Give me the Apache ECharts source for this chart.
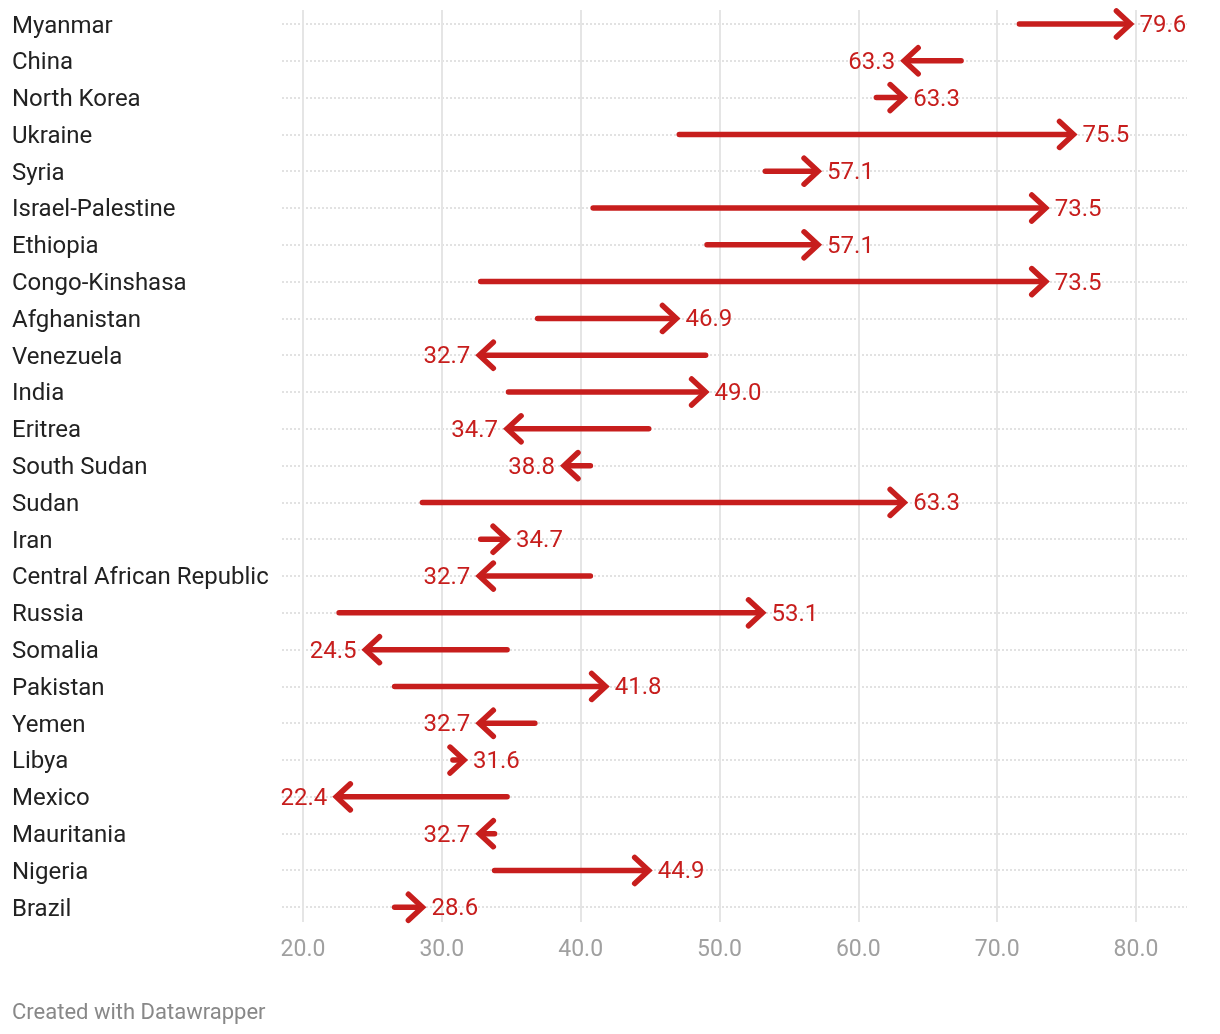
<!DOCTYPE html>
<html><head><meta charset="utf-8">
<script src="https://cdn.jsdelivr.net/npm/echarts@6/dist/echarts.min.js"></script>
<style>html,body{margin:0;padding:0;background:#fff}#c{width:1220px;height:1034px}</style>
</head><body><div id="c"></div>
<script>
const countries = ["Myanmar","China","North Korea","Ukraine","Syria","Israel-Palestine","Ethiopia","Congo-Kinshasa","Afghanistan","Venezuela","India","Eritrea","South Sudan","Sudan","Iran","Central African Republic","Russia","Somalia","Pakistan","Yemen","Libya","Mexico","Mauritania","Nigeria","Brazil"];
const startValues = [71.6,67.4,61.3,47.1,53.3,40.9,49.1,32.8,36.9,49.0,34.8,44.9,40.7,28.6,32.8,40.7,22.6,34.7,26.6,36.7,30.8,34.7,33.8,33.8,26.6];
const endValues = [79.6,63.3,63.3,75.5,57.1,73.5,57.1,73.5,46.9,32.7,49.0,34.7,38.8,63.3,34.7,32.7,53.1,24.5,41.8,32.7,31.6,22.4,32.7,44.9,28.6];
const xTicks = [20,30,40,50,60,70,80];

const RED = '#c71e1d';
const FONT = 'Roboto';
const data = countries.map((c,i)=>[i,startValues[i],endValues[i]]);

const chart = echarts.init(document.getElementById('c'), null, {renderer:'canvas'});
chart.setOption({
  animation:false,
  backgroundColor:'#fff',
  grid:[
    {left:303,right:84,top:10,bottom:112,containLabel:false},
    {left:282,right:33,top:24,bottom:127,containLabel:false}
  ],
  xAxis:[
    {gridIndex:0,type:'value',min:xTicks[0],max:xTicks[xTicks.length-1],interval:10,
     axisLine:{show:false},axisTick:{show:false},
     axisLabel:{color:'#a0a0a0',fontFamily:FONT,fontSize:23,margin:17,formatter:v=>v.toFixed(1)},
     splitLine:{show:true,lineStyle:{color:'#e5e5e5',width:2}}},
    {gridIndex:1,type:'value',min:0,max:1,show:false}
  ],
  yAxis:[
    {gridIndex:0,type:'value',inverse:true,min:-0.38,max:24.4,show:false},
    {gridIndex:1,type:'category',data:countries,inverse:true,boundaryGap:false,
     axisLine:{show:false},axisTick:{show:false},
     axisLabel:{interval:0,align:'left',margin:270,formatter:v=>'{a|'+v+'}',
       rich:{a:{color:'#222',fontFamily:FONT,fontSize:24,padding:[5,0,0,0]}}},
     splitLine:{show:true,interval:0,lineStyle:{color:'#d9d9d9',width:1.5,type:[2,2]}}}
  ],
  series:[{
    type:'custom',xAxisIndex:0,yAxisIndex:0,data:data,clip:false,
    renderItem:(params,api)=>{
      const i=api.value(0), s=api.value(1), e=api.value(2);
      const p0=api.coord([s,i]), p1=api.coord([e,i]);
      const dir = e>=s?1:-1;
      const y=p1[1];
      const ax=14, ay=13;
      return {type:'group',children:[
        {type:'line',shape:{x1:p0[0],y1:y,x2:p1[0]-dir*2,y2:y},style:{stroke:RED,lineWidth:5.5,lineCap:'round'}},
        {type:'polyline',shape:{points:[[p1[0]-dir*ax,y-ay],[p1[0],y],[p1[0]-dir*ax,y+ay]]},
         style:{stroke:RED,lineWidth:5.5,lineCap:'round',lineJoin:'miter',fill:null}},
        {type:'text',x:p1[0]+dir*9,y:y+2,style:{text:e.toFixed(1),fill:RED,font:'24px '+FONT,
          textAlign:dir>0?'left':'right',textVerticalAlign:'middle'}}
      ]};
    }
  }],
  graphic:[{type:'text',left:12,top:1002,style:{text:'Created with Datawrapper',fill:'#888',font:'22px '+FONT}}]
});
</script></body></html>
